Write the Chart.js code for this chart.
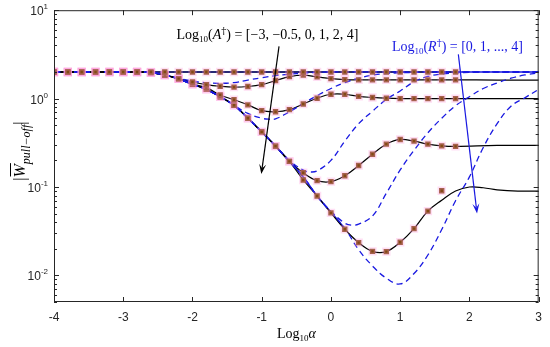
<!DOCTYPE html>
<html>
<head>
<meta charset="utf-8">
<script src="https://cdn.jsdelivr.net/npm/chart.js@4.4.1/dist/chart.umd.min.js"></script>
<style>
  html, body { margin: 0; padding: 0; background: #fff; }
  #wrap { width: 550px; height: 347px; }
</style>
</head>
<body>
<div id="wrap"><canvas id="chart"></canvas></div>
<script>
// ================= DATA =================
// Log10 alpha positions of the markers
const xs = [-4, -3.8, -3.6, -3.4, -3.2, -3, -2.8, -2.6, -2.4, -2.2, -2, -1.8, -1.6, -1.4, -1.2,
            -1, -0.8, -0.6, -0.4, -0.2, 0, 0.2, 0.4, 0.6, 0.8, 1, 1.2, 1.4, 1.6, 1.8];

// |W pull-off| for each Log10(A) curve (black lines + square markers)
const curve1 = [2, 2, 2, 2, 2, 2, 2, 2, 2, 2, 2, 2, 2, 2, 2,
                2, 2, 2, 2, 2, 2, 2, 2, 2, 2, 2, 2, 2, 2, 2];
const curve2 = [2, 2, 2, 2, 2, 2, 2, 1.97, 1.85, 1.68, 1.54, 1.44, 1.38, 1.35, 1.37,
                1.44, 1.6, 1.77, 1.84, 1.76, 1.68, 1.64, 1.63, 1.63, 1.63, 1.63, 1.63, 1.63, 1.63, 1.63];
const curve3 = [2, 2, 2, 2, 2, 2, 2, 1.97, 1.85, 1.67, 1.46, 1.33, 1.1, 0.97, 0.85,
                0.73, 0.71, 0.75, 0.87, 1.01, 1.12, 1.12, 1.06, 1.03, 1.01, 1, 1, 1, 1, 1];
const curve4 = [2, 2, 2, 2, 2, 2, 2, 1.97, 1.85, 1.67, 1.45, 1.27, 1.05, 0.84, 0.6,
                0.42, 0.29, 0.195, 0.145, 0.118, 0.115, 0.134, 0.175, 0.235, 0.305, 0.345, 0.33, 0.305, 0.292, 0.288];
const xs5 = [-4, -3.8, -3.6, -3.4, -3.2, -3, -2.8, -2.6, -2.4, -2.2, -2, -1.8, -1.6, -1.4, -1.2,
             -1, -0.8, -0.6, -0.4, -0.2, 0, 0.2, 0.4, 0.6, 0.8, 1, 1.2, 1.4, 1.6];
const curve5 = [2, 2, 2, 2, 2, 2, 2, 1.97, 1.85, 1.67, 1.45, 1.27, 1.05, 0.84, 0.6,
                0.42, 0.29, 0.195, 0.12, 0.079, 0.051, 0.0333, 0.0235, 0.0187, 0.0186, 0.0237, 0.0338, 0.0534, 0.0908];

// tails of the black lines beyond the last marker
const tailX = [2.4, 3];
const tail2 = [1.62, 1.62];
const tail3 = [1, 1];
const tail4 = [0.295, 0.295];
const line5X = [-4, -3, -2.8, -2.6, -2.4, -2.2, -2, -1.8, -1.6, -1.4, -1.2, -1, -0.8, -0.6, -0.4, -0.2,
                0, 0.2, 0.4, 0.6, 0.8, 1, 1.2, 1.4, 1.6, 1.8, 2, 2.2, 2.4, 2.7, 3];
const line5Y = [2, 2, 2, 1.97, 1.85, 1.67, 1.45, 1.27, 1.05, 0.84, 0.6, 0.42, 0.29, 0.195, 0.12, 0.079,
                0.051, 0.0333, 0.0235, 0.0187, 0.0186, 0.0237, 0.0338, 0.0534, 0.071, 0.09, 0.1, 0.098, 0.093, 0.09, 0.09];

// blue solid lines
const flatX = [-4, 3];
const flatY = [2, 2];
const envX = [-4, -3, -2.8, -2.6, -2.4, -2.2, -2, -1.8, -1.6, -1.4, -1.2, -1, -0.8, -0.6, -0.4, -0.2, 0, 0.2];
const envY = [2, 2, 2, 1.97, 1.85, 1.67, 1.45, 1.27, 1.05, 0.84, 0.6, 0.42, 0.29, 0.195, 0.13, 0.079, 0.052, 0.034];

// blue dashed lines, Log10(R) = 0..4
const d1X = [-4, -3, -2.6, -2.4, -2.2, -2, -1.8, -1.6, -1.4, -1.2, -1, -0.8, -0.6, -0.4, -0.2, 0, 3];
const d1Y = [2, 2, 1.97, 1.86, 1.7, 1.58, 1.51, 1.49, 1.52, 1.62, 1.72, 1.82, 1.89, 1.94, 1.98, 2, 2];
const d2X = [-4, -3, -2.6, -2.4, -2.2, -2, -1.8, -1.6, -1.4, -1.2, -1, -0.9, -0.8, -0.6, -0.4, -0.2,
             0, 0.2, 0.4, 0.6, 0.8, 1, 1.4, 1.8, 3];
const d2Y = [2, 2, 1.97, 1.85, 1.67, 1.45, 1.27, 1.05, 0.84, 0.68, 0.6, 0.585, 0.59, 0.71, 0.88, 1.08,
             1.3, 1.52, 1.7, 1.84, 1.92, 1.96, 1.99, 2, 2];
const d3X = [-4, -3, -2.6, -2.4, -2.2, -2, -1.8, -1.6, -1.4, -1.2, -1, -0.8, -0.6, -0.4, -0.3, -0.2,
             0, 0.2, 0.4, 0.6, 0.8, 1, 1.2, 1.4, 1.6, 1.8, 2.2, 3];
const d3Y = [2, 2, 1.97, 1.85, 1.67, 1.45, 1.27, 1.05, 0.84, 0.6, 0.42, 0.29, 0.2, 0.155, 0.148, 0.152,
             0.2, 0.33, 0.52, 0.72, 0.98, 1.22, 1.55, 1.78, 1.9, 1.95, 1.99, 2];
const d4X = [-4, -3, -2.6, -2.4, -2.2, -2, -1.8, -1.6, -1.4, -1.2, -1, -0.8, -0.6, -0.4, -0.2,
             0, 0.2, 0.3, 0.4, 0.6, 0.8, 1, 1.2, 1.4, 1.6, 1.8, 2, 2.2, 2.4, 2.6, 2.8, 3];
const d4Y = [2, 2, 1.97, 1.85, 1.67, 1.45, 1.27, 1.05, 0.84, 0.6, 0.42, 0.29, 0.195, 0.13, 0.079,
             0.053, 0.039, 0.037, 0.038, 0.047, 0.085, 0.156, 0.26, 0.41, 0.6, 0.83, 1.05, 1.3, 1.5, 1.7, 1.85, 1.95];
const d5X = [-4, -3, -2.6, -2.4, -2.2, -2, -1.8, -1.6, -1.4, -1.2, -1, -0.8, -0.6, -0.4, -0.2,
             0, 0.2, 0.4, 0.6, 0.8, 1, 1.2, 1.4, 1.6, 1.8, 2, 2.2, 2.4, 2.6, 2.8, 3];
const d5Y = [2, 2, 1.97, 1.85, 1.67, 1.45, 1.27, 1.05, 0.84, 0.6, 0.42, 0.29, 0.195, 0.13, 0.079,
             0.052, 0.034, 0.0195, 0.0128, 0.0093, 0.008, 0.0105, 0.017, 0.033, 0.07, 0.13, 0.28, 0.52, 0.82, 1.02, 1.27];

// ticks
const xTickVals = [-4, -3, -2, -1, 0, 1, 2, 3];
const yTickExps = [-2, -1, 0, 1];

// ================= HELPERS =================
const pts = (x, y) => x.map((v, i) => ({ x: v, y: y[i] }));

const BLUE = "rgb(25,25,225)";
const SERIF = "'Liberation Serif', 'DejaVu Serif', serif";
const SANS = "'Liberation Sans', Arial, sans-serif";

function blackLine(data) {
  return { data, borderColor: "#000", borderWidth: 1.2, pointRadius: 0, tension: 0.4, order: 2 };
}
function markers(data) {
  return {
    data, showLine: false, pointStyle: "rect", pointRadius: 3.8,
    pointBackgroundColor: "rgb(130,75,20)", pointBorderColor: "rgba(255,150,220,0.3)",
    pointBorderWidth: 3, order: 0
  };
}
function dashed(data) {
  return { data, borderColor: BLUE, borderWidth: 1.3, borderDash: [6, 4], pointRadius: 0, tension: 0.4, order: 1 };
}

// draws text made of pieces (sub/superscripts, italics)
function rich(ctx, parts, x, y, align) {
  let w = 0;
  parts.forEach(p => { ctx.font = p.f; w += ctx.measureText(p.t).width; });
  let cx = align === "right" ? x - w : align === "center" ? x - w / 2 : x;
  parts.forEach(p => {
    ctx.font = p.f;
    ctx.fillText(p.t, cx, y + (p.dy || 0));
    p.x0 = cx;
    cx += ctx.measureText(p.t).width;
    p.x1 = cx;
  });
}

function arrow(ctx, x1, y1, x2, y2, color) {
  const ang = Math.atan2(y2 - y1, x2 - x1);
  const L = 10, W = 3.5;
  ctx.strokeStyle = color; ctx.fillStyle = color; ctx.lineWidth = 1.2;
  ctx.beginPath(); ctx.moveTo(x1, y1);
  ctx.lineTo(x2 - L * 0.6 * Math.cos(ang), y2 - L * 0.6 * Math.sin(ang)); ctx.stroke();
  ctx.beginPath();
  ctx.moveTo(x2, y2);
  ctx.lineTo(x2 - L * Math.cos(ang) + W * Math.sin(ang), y2 - L * Math.sin(ang) - W * Math.cos(ang));
  ctx.lineTo(x2 - L * 0.6 * Math.cos(ang), y2 - L * 0.6 * Math.sin(ang));
  ctx.lineTo(x2 - L * Math.cos(ang) - W * Math.sin(ang), y2 - L * Math.sin(ang) + W * Math.cos(ang));
  ctx.closePath(); ctx.fill();
}

// box, inward ticks, y labels, annotations
const deco = {
  id: "deco",
  afterDraw(chart) {
    const { ctx, chartArea: a, scales: { x, y } } = chart;
    ctx.save();
    ctx.strokeStyle = "#262626";
    ctx.lineWidth = 1;
    ctx.strokeRect(a.left + 0.5, a.top + 0.5, a.width - 1, a.height - 1);

    ctx.beginPath();
    xTickVals.forEach(v => {
      const px = Math.round(x.getPixelForValue(v)) + 0.5;
      ctx.moveTo(px, a.bottom); ctx.lineTo(px, a.bottom - 5);
      ctx.moveTo(px, a.top); ctx.lineTo(px, a.top + 5);
    });
    [0.001, 0.01, 0.1, 1, 10].forEach(d => {
      for (let m = 1; m < 10; m++) {
        const v = d * m;
        if (v < 0.005 || v > 10) continue;
        const py = Math.round(y.getPixelForValue(v)) + 0.5;
        const len = m === 1 ? 5 : 3;
        ctx.moveTo(a.left, py); ctx.lineTo(a.left + len, py);
        ctx.moveTo(a.right, py); ctx.lineTo(a.right - len, py);
      }
    });
    ctx.stroke();

    // y tick labels 10^n
    ctx.fillStyle = "#262626";
    ctx.textBaseline = "alphabetic";
    yTickExps.forEach(e => {
      const py = y.getPixelForValue(Math.pow(10, e));
      rich(ctx, [
        { t: "10", f: "12px " + SANS },
        { t: String(e), f: "8px " + SANS, dy: -6 }
      ], a.left - 6, py + 5, "right");
    });

    // x axis title
    ctx.fillStyle = "#000";
    rich(ctx, [
      { t: "Log", f: "14px " + SERIF },
      { t: "10", f: "9px " + SERIF, dy: 3 },
      { t: "α", f: "italic 14px " + SERIF }
    ], (a.left + a.right) / 2, 338, "center");

    // y axis title (rotated)
    ctx.save();
    ctx.translate(25, (a.top + a.bottom) / 2 - 5);
    ctx.rotate(-Math.PI / 2);
    const yt = [
      { t: "|", f: "16px " + SERIF },
      { t: "W", f: "italic 16px " + SERIF },
      { t: "pull−off", f: "italic 12px " + SERIF, dy: 5 },
      { t: "|", f: "16px " + SERIF }
    ];
    rich(ctx, yt, 0, 0, "center");
    ctx.lineWidth = 1; ctx.strokeStyle = "#000";
    ctx.beginPath(); ctx.moveTo(yt[1].x0 + 1, -14.5); ctx.lineTo(yt[1].x1 + 1, -14.5); ctx.stroke();
    ctx.restore();

    // annotation texts
    ctx.fillStyle = "#000";
    rich(ctx, [
      { t: "Log", f: "14px " + SERIF },
      { t: "10", f: "9px " + SERIF, dy: 3 },
      { t: "(", f: "14px " + SERIF },
      { t: "A", f: "italic 14px " + SERIF },
      { t: "†", f: "10px 'DejaVu Serif', serif", dy: -5 },
      { t: ") = [−3, −0.5, 0, 1, 2, 4]", f: "14px " + SERIF }
    ], x.getPixelForValue(-2.23), y.getPixelForValue(4.7), "left");

    ctx.fillStyle = BLUE;
    rich(ctx, [
      { t: "Log", f: "14px " + SERIF },
      { t: "10", f: "9px " + SERIF, dy: 3 },
      { t: "(", f: "14px " + SERIF },
      { t: "R", f: "italic 14px " + SERIF },
      { t: "†", f: "10px 'DejaVu Serif', serif", dy: -5 },
      { t: ") = [0, 1, ..., 4]", f: "14px " + SERIF }
    ], x.getPixelForValue(0.88), y.getPixelForValue(3.5), "left");

    // arrows
    arrow(ctx, x.getPixelForValue(-0.75), y.getPixelForValue(3.9),
               x.getPixelForValue(-1.006), y.getPixelForValue(0.14), "#000");
    arrow(ctx, x.getPixelForValue(1.84), y.getPixelForValue(3.16),
               x.getPixelForValue(2.11), y.getPixelForValue(0.05), BLUE);
    ctx.restore();
  }
};

// ================= CHART =================
const ctx = document.getElementById("chart").getContext("2d");

window.pullOffChart = new Chart(ctx, {
  type: "line",
  data: {
    datasets: [
      blackLine(pts(xs, curve1)),
      blackLine(pts(xs.concat(tailX), curve2.concat(tail2))),
      blackLine(pts(xs.concat(tailX), curve3.concat(tail3))),
      blackLine(pts(xs.concat(tailX), curve4.concat(tail4))),
      blackLine(pts(line5X, line5Y)),
      { data: pts(flatX, flatY), borderColor: BLUE, borderWidth: 1.3, pointRadius: 0, order: 3 },
      { data: pts(envX, envY), borderColor: BLUE, borderWidth: 1.6, pointRadius: 0, tension: 0.4, order: 3 },
      dashed(pts(d1X, d1Y)),
      dashed(pts(d2X, d2Y)),
      dashed(pts(d3X, d3Y)),
      dashed(pts(d4X, d4Y)),
      dashed(pts(d5X, d5Y)),
      markers(pts(xs, curve1)),
      markers(pts(xs, curve2)),
      markers(pts(xs, curve3)),
      markers(pts(xs, curve4)),
      markers(pts(xs5, curve5))
    ]
  },
  options: {
    responsive: true,
    maintainAspectRatio: false,
    animation: false,
    events: [],
    layout: { padding: { top: 10, right: 9, left: 0, bottom: 0 } },
    plugins: {
      legend: { display: false },
      tooltip: { enabled: false }
    },
    scales: {
      x: {
        type: "linear",
        min: -4,
        max: 3,
        afterBuildTicks: s => { s.ticks = xTickVals.map(v => ({ value: v })); },
        ticks: { font: { family: SANS, size: 12 }, color: "#262626", padding: 8, maxRotation: 0 },
        grid: { display: false, drawTicks: false },
        border: { display: false },
        afterFit: s => { s.height = 45; }
      },
      y: {
        type: "logarithmic",
        min: 0.005,
        max: 10,
        ticks: { callback: () => "" },
        grid: { display: false, drawTicks: false },
        border: { display: false },
        afterFit: s => { s.width = 54; }
      }
    }
  },
  plugins: [deco]
});
</script>
</body>
</html>
